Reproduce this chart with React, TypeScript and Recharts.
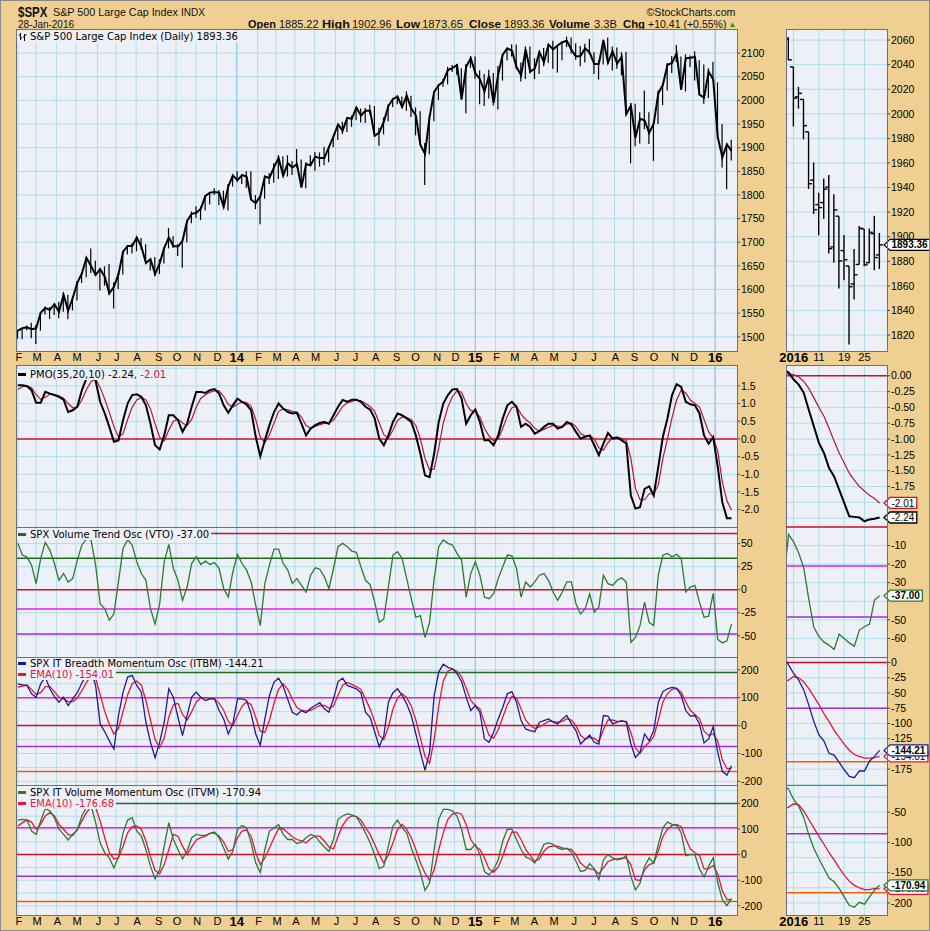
import React from 'react';
import { ComposedChart, Line, Bar, XAxis, YAxis, CartesianGrid, ReferenceLine } from 'recharts';

// weekly values, week ending 1 Feb 2013 ... 28 Jan 2016
const spxClose = [
  1513, 1518, 1520, 1516, 1518, 1551, 1561, 1557, 1569, 1553,
  1589, 1555, 1582, 1614, 1634, 1667, 1650, 1631, 1643, 1627,
  1592, 1606, 1632, 1680, 1692, 1692, 1710, 1691, 1656, 1664,
  1633, 1655, 1688, 1710, 1692, 1691, 1703, 1745, 1760, 1762,
  1771, 1798, 1805, 1806, 1805, 1775, 1818, 1841,
  1831, 1842, 1839, 1790, 1783, 1797, 1839, 1836, 1859, 1878,
  1841, 1867, 1858, 1865, 1816, 1865, 1863, 1881, 1878, 1878,
  1901, 1924, 1949, 1936, 1963, 1961, 1985, 1968, 1978, 1978,
  1925, 1932, 1955, 1988, 2003, 2008, 1986, 2010, 1983, 1968,
  1906, 1887, 1965, 2018, 2032, 2040, 2064, 2068, 2075, 2002,
  2071, 2089,
  2058, 2045, 2019, 2052, 1995, 2055, 2097, 2110, 2105, 2071,
  2053, 2108, 2061, 2067, 2102, 2081, 2118, 2108, 2116, 2123,
  2126, 2107, 2093, 2094, 2110, 2101, 2077, 2077, 2127, 2080,
  2104, 2078, 2092, 1971, 1989, 1921, 1961, 1958, 1931, 1951,
  2015, 2033, 2075, 2079, 2099, 2023, 2089, 2090, 2092, 2012,
  2006, 2061, 2044, 1922, 1880, 1907, 1893,
];
const spxLow = [
  1496, 1495, 1514, 1497, 1485, 1513, 1547, 1538, 1546, 1539,
  1553, 1537, 1556, 1577, 1614, 1626, 1635, 1630, 1598, 1608,
  1589, 1560, 1601, 1632, 1674, 1676, 1681, 1684, 1655, 1640,
  1628, 1633, 1655, 1687, 1688, 1671, 1646, 1700, 1740, 1752,
  1747, 1767, 1780, 1800, 1779, 1772, 1767, 1818,
  1828, 1823, 1815, 1790, 1770, 1738, 1792, 1823, 1826, 1834,
  1840, 1839, 1842, 1858, 1815, 1814, 1860, 1851, 1860, 1863,
  1869, 1901, 1916, 1929, 1933, 1944, 1958, 1953, 1952, 1970,
  1925, 1904, 1928, 1956, 1986, 1992, 1984, 1978, 1965, 1926,
  1906, 1821, 1886, 1956, 2001, 2029, 2034, 2060, 2054, 2002,
  1973, 2069,
  2046, 1992, 1988, 2004, 1989, 1981, 2042, 2085, 2093, 2066,
  2040, 2045, 2057, 2045, 2056, 2072, 2079, 2067, 2059, 2085,
  2113, 2099, 2086, 2072, 2080, 2097, 2056, 2044, 2076, 2077,
  2063, 2067, 2053, 1970, 1867, 1903, 1909, 1939, 1908, 1872,
  1950, 1990, 2021, 2058, 2081, 2022, 2019, 2070, 2042, 2012,
  1993, 2005, 2044, 1918, 1858, 1812, 1873,
];
const spxHigh = [
  1514, 1518, 1524, 1530, 1525, 1552, 1564, 1563, 1570, 1574,
  1593, 1589, 1585, 1618, 1636, 1669, 1687, 1661, 1646, 1649,
  1654, 1615, 1635, 1680, 1694, 1698, 1710, 1709, 1696, 1665,
  1669, 1664, 1690, 1730, 1713, 1696, 1704, 1745, 1765, 1776,
  1775, 1799, 1806, 1814, 1810, 1809, 1823, 1844,
  1850, 1844, 1850, 1850, 1800, 1798, 1841, 1846, 1867, 1884,
  1882, 1884, 1872, 1897, 1875, 1869, 1884, 1891, 1890, 1902,
  1902, 1925, 1950, 1955, 1964, 1968, 1985, 1983, 1984, 1991,
  1988, 1942, 1964, 1992, 2005, 2011, 2008, 2019, 2010, 1985,
  1977, 1910, 1966, 2019, 2034, 2046, 2071, 2075, 2077, 2068,
  2077, 2094,
  2093, 2064, 2056, 2065, 2058, 2073, 2097, 2111, 2119, 2118,
  2080, 2114, 2114, 2089, 2103, 2111, 2120, 2126, 2118, 2124,
  2135, 2133, 2121, 2115, 2120, 2130, 2102, 2085, 2129, 2133,
  2114, 2112, 2102, 2103, 1994, 1993, 1975, 2021, 1975, 1953,
  2021, 2034, 2079, 2094, 2117, 2093, 2097, 2095, 2104, 2085,
  2076, 2068, 2082, 2038, 1950, 1909, 1917,
];
const pmoLine = [
  1.52, 1.52, 1.49, 1.38, 1.02, 1.02, 1.33, 1.28, 1.24, 1.19,
  1.11, 0.76, 0.81, 0.91, 1.38, 1.71, 1.85, 1.64, 1.05, 0.72,
  0.34, -0.08, -0.04, 0.53, 1.0, 1.24, 1.26, 1.19, 0.95, 0.43,
  -0.18, -0.3, 0.1, 0.67, 0.67, 0.53, 0.2, 0.43, 0.91, 1.33,
  1.33, 1.3, 1.38, 1.41, 1.28, 0.95, 0.74, 0.95, 1.14, 1.05,
  0.97, 0.81, 0.06, -0.49, -0.04, 0.39, 0.76, 1.0, 0.86, 0.76,
  0.72, 0.74, 0.43, 0.1, 0.29, 0.39, 0.45, 0.48, 0.43, 0.67,
  0.91, 1.1, 1.05, 1.11, 1.11, 1.05, 0.91, 0.83, 0.58, 0.01,
  -0.18, 0.1, 0.48, 0.72, 0.67, 0.58, 0.48, 0.1, -0.42, -1.03,
  -1.08, -0.42, 0.48, 1.0, 1.24, 1.4, 1.41, 1.14, 0.43, 0.67,
  0.83, 0.48, -0.04, -0.04, -0.18, 0.1, 0.58, 0.95, 1.05, 0.91,
  0.34, 0.43, 0.34, 0.15, 0.22, 0.34, 0.43, 0.43, 0.29, 0.34,
  0.48, 0.41, 0.2, 0.01, 0.06, 0.1, -0.18, -0.46, -0.13, 0.17,
  0.01, 0.04, -0.04, -0.13, -1.6, -1.97, -1.93, -1.41, -1.34, -1.6,
  -0.79, 0.06, 0.58, 1.24, 1.55, 1.47, 1.05, 0.98, 0.95, 0.72,
  0.1, -0.13, 0.05, -0.8, -1.8, -2.24, -2.24,
];
const pmoSignal = [
  1.4, 1.48, 1.5, 1.45, 1.25, 1.12, 1.18, 1.26, 1.25, 1.22,
  1.15, 1.0, 0.88, 0.9, 1.1, 1.4, 1.62, 1.7, 1.45, 1.12,
  0.75, 0.35, 0.05, 0.15, 0.55, 0.9, 1.1, 1.18, 1.1, 0.85,
  0.42, 0.05, -0.05, 0.25, 0.5, 0.56, 0.45, 0.38, 0.55, 0.9,
  1.15, 1.25, 1.32, 1.36, 1.36, 1.2, 0.98, 0.9, 0.98, 1.05,
  1.03, 0.92, 0.55, 0.05, -0.1, 0.12, 0.45, 0.78, 0.85, 0.82,
  0.78, 0.76, 0.62, 0.38, 0.3, 0.35, 0.4, 0.44, 0.45, 0.53,
  0.72, 0.92, 1.02, 1.06, 1.1, 1.08, 1.0, 0.92, 0.78, 0.45,
  0.12, 0.02, 0.25, 0.52, 0.62, 0.6, 0.55, 0.38, 0.0, -0.55,
  -0.88, -0.85, -0.25, 0.45, 0.9, 1.2, 1.36, 1.32, 1.0, 0.8,
  0.78, 0.62, 0.3, 0.08, -0.05, 0.0, 0.3, 0.65, 0.88, 0.92,
  0.7, 0.55, 0.45, 0.3, 0.22, 0.27, 0.33, 0.38, 0.36, 0.35,
  0.42, 0.45, 0.35, 0.15, 0.08, 0.1, 0.0, -0.25, -0.32, -0.1,
  0.03, 0.05, 0.02, -0.05, -0.55, -1.4, -1.72, -1.72, -1.55, -1.55,
  -1.3, -0.55, 0.0, 0.6, 1.1, 1.38, 1.3, 1.1, 1.0, 0.9,
  0.55, 0.2, 0.03, -0.35, -1.22, -1.75, -2.01,
];
const vtoLine = [
  50.3, 37.6, 35.4, 26.6, 6.6, 33.9, 51.4, 43, 28.4, 10.2,
  17.5, 8.4, 12, 32.1, 48.5, 55.1, 54, 26.6, -15.3, -20.8,
  -33, -26.3, 8.4, 44.9, 54, 48.5, 30.3, 17.5, 10.2, -20.8,
  -37.2, -15.3, 30.3, 49.2, 23, 10.2, -11.7, 2.9, 28.4, 35.7,
  27.4, 31, 27.4, 29.5, 23, 1.1, -8, 19.3, 38.3, 28.4,
  21.2, 8.4, -17.1, -39, 6.6, 26.6, 44.1, 44.1, 28.4, 21.2,
  6.6, 12, 4.7, -2.6, 15.7, 23.7, 22.2, 13.9, 1.1, 23,
  46.7, 50.3, 46.7, 41.9, 40.5, 24.8, 10.2, 5.5, -13.5, -35.4,
  -31.7, 2.9, 37.6, 41.2, 33.9, 12, -9.8, -29.9, -28, -51.8,
  -35.4, 12, 46.7, 54, 50.3, 48.5, 39.4, 32.1, -8, 17.5,
  30.3, 15.7, -8, -9.8, -4.4, 12, 24.8, 37.6, 36.8, 23,
  -8, 8.4, 2.9, 8.4, 15.7, 17.5, 10.2, -2.6, -11.7, -2.6,
  8.4, 8.4, -15.3, -26.3, -20.8, -4.4, -24.4, -19, 15.7, 6.6,
  4.7, 10.2, 12.8, 8.4, -57.3, -51.8, -39, -13.5, -35.4, -39,
  15.7, 37.6, 39.4, 35.7, 38.3, 33.9, -2.6, 2.9, 4.7, -13.5,
  -29.9, -28.8, -4, -54, -57.7, -55.5, -37,
];
const itbmLine = [
  150, 146, 144, 114, 102, 150, 174, 132, 104, 84,
  102, 72, 96, 118, 153, 182, 198, 144, 6, -22,
  -55, -84, 36, 120, 174, 180, 144, 120, 12, -60,
  -115, -60, 12, 132, 102, 30, -36, 36, 102, 120,
  102, 90, 96, 96, 54, 24, -30, 6, 96, 96,
  90, 42, -30, -70, 24, 108, 156, 170, 141, 94,
  48, 38, 54, 46, 62, 72, 82, 60, 48, 96,
  158, 170, 144, 138, 132, 118, 48, 30, -22, -76,
  -36, 84, 118, 132, 108, 78, 36, -30, -96, -160,
  -96, 108, 192, 220, 209, 204, 186, 158, 102, 54,
  72, 48, -48, -60, -24, 24, 66, 114, 122, 84,
  18, -12, -18, -22, 12, 18, 24, 12, 6, 24,
  36, 6, -18, -66, -50, -34, -60, -66, 36, 34,
  6, 12, 18, 12, -66, -114, -96, -30, -54, -18,
  84, 122, 132, 137, 134, 108, 54, 34, 36, 6,
  -62, -48, -4, -97, -164, -178, -144.21,
];
const itbmEma = [
  138, 142, 145, 130, 112, 118, 140, 140, 122, 102,
  96, 86, 86, 100, 125, 155, 180, 170, 110, 50,
  5, -30, -10, 50, 110, 150, 160, 145, 90, 20,
  -50, -80, -45, 30, 75, 80, 40, 20, 50, 85,
  100, 100, 97, 96, 80, 55, 15, 0, 35, 70,
  85, 75, 30, -20, -25, 20, 80, 130, 150, 130,
  95, 65, 55, 52, 55, 63, 72, 72, 62, 70,
  110, 145, 155, 148, 140, 130, 95, 60, 15, -35,
  -50, -5, 60, 100, 115, 100, 70, 20, -45, -110,
  -135, -50, 70, 160, 195, 203, 195, 175, 135, 90,
  72, 60, 10, -35, -45, -15, 30, 75, 105, 100,
  60, 20, 0, -10, -5, 5, 15, 15, 12, 15,
  25, 20, 0, -35, -48, -42, -45, -58, -15, 20,
  20, 15, 15, 15, -25, -80, -100, -75, -60, -40,
  20, 85, 115, 130, 133, 120, 85, 55, 40, 25,
  -20, -35, -29, -56, -123, -154, -154.01,
];
const itvmLine = [
  135, 138, 135, 92, 79, 131, 180, 171, 144, 99,
  79, 57, 79, 96, 151, 184, 193, 125, 46, 7,
  -13, -52, -9, 85, 135, 144, 92, 72, 20, -46,
  -95, -59, 33, 125, 59, 20, -17, 13, 66, 79,
  75, 75, 83, 88, 66, 26, -17, 13, 99, 114,
  105, 46, -33, -70, 20, 92, 104, 118, 79, 59,
  59, 43, 49, 66, 79, 72, 49, 30, 13, 59,
  138, 151, 159, 155, 148, 118, 85, 46, 0, -55,
  -46, 33, 112, 135, 105, 85, 26, -20, -72, -140,
  -111, 20, 138, 177, 177, 171, 151, 99, 20, 20,
  40, 0, -66, -79, -59, -20, 53, 99, 99, 59,
  20, -9, -17, -33, 0, 40, 46, 40, 26, 20,
  25, 9, -26, -66, -62, -35, -56, -98, -20, 0,
  -13, -20, -17, -4, -85, -138, -112, -46, -13, -33,
  40, 105, 127, 118, 114, 85, -4, 0, 0, -56,
  -88, -46, -12, -110, -176, -199, -170.94,
];
const itvmEma = [
  112, 125, 135, 127, 99, 118, 151, 164, 151, 118,
  99, 79, 75, 99, 131, 164, 188, 184, 131, 66,
  7, -17, -13, 33, 85, 109, 112, 99, 53, -9,
  -62, -75, -39, 20, 79, 72, 33, 0, 30, 57,
  66, 72, 83, 85, 72, 49, 13, 20, 66, 92,
  96, 72, 7, -39, -13, 26, 66, 101, 101, 85,
  70, 59, 54, 46, 62, 72, 72, 53, 30, 22,
  72, 114, 140, 151, 148, 135, 105, 79, 40, 0,
  -33, 0, 46, 99, 118, 99, 66, 20, -33, -72,
  -101, -59, 20, 85, 138, 158, 164, 158, 118, 59,
  33, 20, -13, -56, -69, -48, -6, 46, 88, 88,
  59, 20, -4, -26, -17, 13, 30, 33, 33, 26,
  22, 20, 0, -33, -48, -56, -59, -75, -52, -27,
  -20, -17, -14, -14, -39, -98, -101, -59, -39, -33,
  13, 72, 99, 114, 118, 109, 62, 22, 7, -4,
  -56, -55, -42, -76, -142, -175, -176.68,
];

const monthStarts = [
  '2013-02-01', '2013-03-01', '2013-04-01', '2013-05-01', '2013-06-03', '2013-07-01',
  '2013-08-01', '2013-09-03', '2013-10-01', '2013-11-01', '2013-12-02', '2014-01-02',
  '2014-02-03', '2014-03-03', '2014-04-01', '2014-05-01', '2014-06-02', '2014-07-01',
  '2014-08-01', '2014-09-02', '2014-10-01', '2014-11-03', '2014-12-01', '2015-01-02',
  '2015-02-02', '2015-03-02', '2015-04-01', '2015-05-01', '2015-06-01', '2015-07-01',
  '2015-08-03', '2015-09-01', '2015-10-01', '2015-11-02', '2015-12-01', '2016-01-04',
];
const monthLabels = [
  'F', 'M', 'A', 'M', 'J', 'J', 'A', 'S', 'O', 'N', 'D', '14',
  'F', 'M', 'A', 'M', 'J', 'J', 'A', 'S', 'O', 'N', 'D', '15',
  'F', 'M', 'A', 'M', 'J', 'J', 'A', 'S', 'O', 'N', 'D', '16',
];

// daily values for the zoomed panel, 30 Dec 2015 ... 28 Jan 2016
const dayLabels = ['Dec 30', 'Dec 31', 'Jan 4', 'Jan 5', 'Jan 6', 'Jan 7', 'Jan 8', 'Jan 11', 'Jan 12', 'Jan 13',
  'Jan 14', 'Jan 15', 'Jan 19', 'Jan 20', 'Jan 21', 'Jan 22', 'Jan 25', 'Jan 26', 'Jan 27', 'Jan 28'];
const dayOpen = [2077.3, 2060.6, 2038.2, 2013.8, 2011.7, 1985.3, 1946.0, 1926.1, 1927.8, 1940.3,
  1891.7, 1916.7, 1888.7, 1876.2, 1861.5, 1877.4, 1906.3, 1878.8, 1902.5, 1885.2];
const dayHigh = [2077.3, 2062.5, 2038.2, 2021.9, 2011.7, 1985.3, 1960.4, 1935.7, 1947.4, 1950.3,
  1934.5, 1916.7, 1901.4, 1876.2, 1889.9, 1908.8, 1906.3, 1906.7, 1917.0, 1903.0];
const dayLow = [2062.0, 2043.6, 1989.7, 2004.2, 1979.1, 1938.8, 1918.5, 1901.1, 1914.4, 1886.3,
  1878.9, 1857.8, 1864.6, 1812.3, 1849.0, 1877.4, 1876.0, 1878.8, 1872.7, 1873.7];
const dayClose = [2063.4, 2043.9, 2012.7, 2016.7, 1990.3, 1943.1, 1922.0, 1923.7, 1938.7, 1890.3,
  1921.8, 1880.3, 1881.3, 1859.3, 1869.0, 1906.9, 1877.1, 1903.6, 1883.0, 1893.36];
const dayPmo = [0.1, 0.05, -0.06, -0.14, -0.27, -0.54, -0.8, -1.06, -1.22, -1.46,
  -1.59, -1.8, -2.01, -2.22, -2.23, -2.24, -2.3, -2.27, -2.26, -2.24];
const dayPmoSignal = [0.04, 0.03, 0.02, -0.02, -0.09, -0.2, -0.35, -0.5, -0.64, -0.83,
  -1.03, -1.22, -1.38, -1.54, -1.65, -1.75, -1.82, -1.89, -1.94, -2.01];
const dayVto = [-30, -4, -8, -14, -22, -39, -54, -59, -62, -63.6,
  -66, -57.7, -60, -62.4, -64.2, -55.5, -53.7, -52.3, -39.3, -37];
const dayItbm = [10, -4, -18, -29, -45, -70, -97, -119, -129, -149,
  -152, -164, -176, -187, -189, -178, -178, -162, -154, -144.21];
const dayItbmEma = [-32, -29, -23, -25, -32, -43, -56, -69, -84, -97,
  -111, -123, -134, -144, -151, -154, -157, -157, -156, -154.01];
const dayItvm = [-5, -12, -29, -40, -59, -87, -110, -127, -143, -159,
  -165, -176, -190, -204, -207, -199, -202, -190, -179, -170.94];
const dayItvmEma = [-45, -41.6, -36, -38, -48, -62, -76, -90, -103, -117,
  -129, -142, -154, -164, -171, -175, -178, -178, -176, -176.68];
const dayTickIdx = [2, 7, 12, 16];
const dayTickText = ['2016', '11', '19', '25'];

const BG = '#F0D092';
const PLOT_BG = '#EEF0F8';
const GRID = '#AEDDEA';
const GRID_YEAR = '#86C6EA';
const BORDER = '#6E6E82';
const RED = '#D0102A';
const CRIMSON = '#B8133C';
const EMA_RED = '#E8143C';
const GREEN = '#2C7A2C';
const DKGREEN = '#1E6A1E';
const MAGENTA = '#E81EE8';
const PURPLE = '#9A30D8';
const ORANGE = '#F06000';
const NAVY = '#1C1C8C';
const AXIS_FONT = "Arial, 'Liberation Sans', sans-serif";

const weekStart = Date.parse('2013-02-01');
const monthPos = monthStarts.map(d => (Date.parse(d) - weekStart) / (7 * 864e5));
const yearPos = monthPos.filter((_, i) => monthLabels[i].length === 2);

const weeks = spxClose.map((c, i) => ({
  k: i,
  close: c,
  hl: [spxLow[i], spxHigh[i]],
  pmo: pmoLine[i],
  pmoSig: pmoSignal[i],
  vto: vtoLine[i],
  itbm: itbmLine[i],
  itbmEma: itbmEma[i],
  itvm: itvmLine[i],
  itvmEma: itvmEma[i],
}));

const days = dayLabels.map((d, i) => ({
  p: i,
  day: d,
  hl: [dayLow[i], dayHigh[i]],
  open: dayOpen[i],
  high: dayHigh[i],
  low: dayLow[i],
  close: dayClose[i],
  pmo: dayPmo[i],
  pmoSig: dayPmoSignal[i],
  vto: dayVto[i],
  itbm: dayItbm[i],
  itbmEma: dayItbmEma[i],
  itvm: dayItvm[i],
  itvmEma: dayItvmEma[i],
}));

const range = (a: number, b: number, s: number) => {
  const out: number[] = [];
  for (let v = a; v <= b + 1e-9; v += s) out.push(Math.round(v * 100) / 100);
  return out;
};

const MAIN_LEFT = 16;
const MAIN_W = 721;
const RIGHT_LEFT = 786;
const RIGHT_W = 101;

const panels = {
  price: { top: 29, h: 322 },
  pmo: { top: 365, h: 162 },
  vto: { top: 527, h: 130 },
  itbm: { top: 657, h: 128 },
  itvm: { top: 785, h: 130 },
};

function MonthTick(props: any) {
  const { x, y, index } = props;
  const label = monthLabels[index] ?? '';
  const year = label.length === 2;
  return (
    <text x={x + (year ? 0 : 1)} y={y} dy="0.71em" textAnchor="middle" fontFamily={AXIS_FONT}
      fontSize={year ? 13 : 11} fontWeight={year ? 'bold' : 'normal'} fill="#000">{label}</text>
  );
}

function DayTick(props: any) {
  const { x, y, index } = props;
  const label = dayTickText[index] ?? '';
  const year = label.length === 4;
  return (
    <text x={x} y={y} dy="0.71em" textAnchor="middle" fontFamily={AXIS_FONT}
      fontSize={year ? 13 : 11} fontWeight={year ? 'bold' : 'normal'} fill="#000">{label}</text>
  );
}

function Spike(props: any) {
  const { x, y, width, height } = props;
  const cx = x + width / 2;
  const top = Math.min(y, y + height);
  return <line x1={cx} x2={cx} y1={top} y2={top + Math.abs(height)} stroke="#000" strokeWidth={1.2} />;
}

function Ohlc(props: any) {
  const { x, y, width, height, payload } = props;
  const cx = x + width / 2;
  const top = Math.min(y, y + height);
  const h = Math.abs(height);
  const span = payload.high - payload.low || 1;
  const yOf = (v: number) => top + ((payload.high - v) / span) * h;
  return (
    <g stroke="#000" strokeWidth={1.4}>
      <line x1={cx} x2={cx} y1={top} y2={top + h} />
      <line x1={cx - 3.5} x2={cx} y1={yOf(payload.open)} y2={yOf(payload.open)} />
      <line x1={cx} x2={cx + 3.5} y1={yOf(payload.close)} y2={yOf(payload.close)} />
    </g>
  );
}

const TAG_FONT = 10;
const textWidth = (t: string, size: number) =>
  t.split('').reduce((s, ch) => s + (ch === '.' ? 0.278 : ch === '-' ? 0.333 : 0.556), 0) * size;

function Tag(props: any) {
  const { viewBox, text, color, bold } = props;
  if (!viewBox) return null;
  const x0 = viewBox.x + viewBox.width - 3;
  const y = viewBox.y;
  const w = textWidth(text, TAG_FONT) + 4;
  const pts = `${x0},${y} ${x0 + 6},${y - 5.5} ${x0 + 6 + w},${y - 5.5} ${x0 + 6 + w},${y + 5.5} ${x0 + 6},${y + 5.5}`;
  return (
    <g>
      <polygon points={pts} fill="#fff" stroke={color} strokeWidth={1.3} />
      <text x={x0 + 7.5} y={y} dy="0.36em" fontFamily={AXIS_FONT} fontSize={TAG_FONT}
        fontWeight={bold ? 'bold' : 'normal'} fill="#000">{text}</text>
    </g>
  );
}

const axisTick = { fontSize: 10.5, fill: '#000', fontFamily: AXIS_FONT };

type ChartProps = {
  right?: boolean;
  top: number;
  height: number;
  xLabels?: boolean;
  yDomain: [number, number];
  yTicks: number[];
  yFmt?: (v: number) => string;
  yGrid: number[];
  refLines?: [number, string][];
  tags?: [number, string, string, boolean][];
  children?: React.ReactNode;
};

function Panel({ right, top, height, xLabels, yDomain, yTicks, yFmt, yGrid, refLines = [], tags = [], children }: ChartProps) {
  const xH = xLabels ? 16 : 0;
  const plotW = right ? RIGHT_W : MAIN_W;
  const axisW = right ? 44 : 50;
  const left = right ? RIGHT_LEFT : MAIN_LEFT;
  return (
    <>
      <div style={{ position: 'absolute', left, top }}>
        <ComposedChart width={plotW + axisW} height={height + xH} data={right ? days : weeks}
          margin={{ top: 0, right: 0, bottom: 0, left: 0 }}>
          <CartesianGrid horizontalValues={yGrid} verticalValues={right ? dayTickIdx : monthPos}
            stroke={GRID} fill={PLOT_BG} fillOpacity={1} />
          {!right && <CartesianGrid horizontal={false} verticalValues={yearPos} stroke={GRID_YEAR} />}
          <XAxis type="number" dataKey={right ? 'p' : 'k'}
            domain={right ? [0.49, 20.46] : [-0.4, 157.2]} allowDataOverflow
            ticks={right ? dayTickIdx : monthPos} interval={0} hide={!xLabels} height={xH}
            axisLine={false} tickLine={false} tickSize={0} tickMargin={2}
            tick={right ? <DayTick /> : <MonthTick />} />
          <YAxis orientation="right" width={axisW} domain={yDomain} allowDataOverflow ticks={yTicks}
            interval={0} tickFormatter={yFmt} axisLine={false} tickSize={3} tickMargin={1}
            tickLine={{ stroke: '#444' }} tick={axisTick} />
          {refLines.map(([v, c], i) => (
            <ReferenceLine key={'ref' + i} y={v} stroke={c} strokeWidth={1.5} />
          ))}
          {children}
          {tags.map(([v, text, color, bold], i) => (
            <ReferenceLine key={'tag' + i} y={v} stroke="none"
              label={<Tag text={text} color={color} bold={bold} />} />
          ))}
        </ComposedChart>
      </div>
      <div style={{
        position: 'absolute', left, top, width: plotW + 1, height: height + 1,
        border: `1px solid ${BORDER}`, boxSizing: 'border-box', pointerEvents: 'none',
      }} />
    </>
  );
}

const legendBox: React.CSSProperties = {
  position: 'absolute', background: PLOT_BG, fontFamily: "'DejaVu Sans', Verdana, sans-serif",
  fontSize: 10, lineHeight: '11px', color: '#000', padding: '0 2px 0 1px', whiteSpace: 'nowrap',
};

function Marker({ color }: { color: string }) {
  return <span style={{ display: 'inline-block', width: 8, height: 3, background: color, verticalAlign: 'middle', marginRight: 4, position: 'relative', top: -1 }} />;
}

// header texts: [text, left, width, bold, baseline, size]
const headerItems: [string, number, number, boolean, number, number][] = [
  ['$SPX', 18, 29.5, true, 16.5, 14],
  ['S&P 500 Large Cap Index', 53, 125, false, 15.5, 11],
  ['INDX', 181, 24, false, 15.5, 10],
  ['©StockCharts.com', 646.5, 89, false, 15.5, 11],
  ['28-Jan-2016', 18, 56, false, 27.5, 11],
  ['Open', 248, 28, true, 27.5, 11], ['1885.22', 279, 39.5, false, 27.5, 11],
  ['High', 322, 28, true, 27.5, 11], ['1902.96', 352, 39.5, false, 27.5, 11],
  ['Low', 396, 24, true, 27.5, 11], ['1873.65', 422, 41, false, 27.5, 11],
  ['Close', 469, 32, true, 27.5, 11], ['1893.36', 504, 40.5, false, 27.5, 11],
  ['Volume', 549, 41, true, 27.5, 11], ['3.3B', 594, 23, false, 27.5, 11],
  ['Chg', 623, 22, true, 27.5, 11], ['+10.41 (+0.55%)', 648, 78.5, false, 27.5, 11],
];

const fmt1 = (v: number) => v.toFixed(1);
const fmt2 = (v: number) => v.toFixed(2);
const fmt0 = (v: number) => String(v);

export default function App() {
  return (
    <div style={{ position: 'absolute', left: 0, top: 0, width: 930, height: 931, background: BG, overflow: 'hidden' }}>
      <style>{`body{margin:0;overflow:hidden;background:${BG}} .recharts-surface{overflow:visible}`}</style>

      <svg width={930} height={29} style={{ position: 'absolute', left: 0, top: 0 }}>
        {headerItems.map(([t, x, w, b, base, size]) => (
          <text key={t + x} x={x} y={base} textLength={w} lengthAdjust="spacingAndGlyphs"
            fontFamily={AXIS_FONT} fontSize={size} fontWeight={b ? 'bold' : 'normal'} fill="#111">{t}</text>
        ))}
        <polygon points="730,27 735,27 732.5,22.5" fill="#1E9A1E" />
      </svg>

      {/* price */}
      <Panel top={panels.price.top} height={panels.price.h} xLabels yDomain={[1470, 2151]}
        yTicks={range(1500, 2100, 50)} yFmt={fmt0} yGrid={range(1500, 2150, 50)}>
        <Bar dataKey="hl" barSize={2} isAnimationActive={false} shape={(p: any) => <Spike {...p} />} />
        <Line dataKey="close" stroke="#000" strokeWidth={2} dot={false} isAnimationActive={false} />
      </Panel>
      <Panel right top={panels.price.top} height={panels.price.h} xLabels yDomain={[1807, 2069]}
        yTicks={range(1820, 2060, 20)} yFmt={fmt0} yGrid={range(1820, 2060, 20)}
        tags={[[1893.36, '1893.36', '#000', true]]}>
        <Bar dataKey="hl" barSize={6} isAnimationActive={false} shape={(p: any) => <Ohlc {...p} />} />
      </Panel>
      <div style={{ ...legendBox, left: 17, top: 31 }}>
        <svg width={9} height={9} style={{ marginRight: 3, verticalAlign: 'middle', position: 'relative', top: -1 }}>
          <g stroke="#000" strokeWidth={1}>
            <line x1={2.5} x2={2.5} y1={1} y2={8} /><line x1={0.5} x2={2.5} y1={3} y2={3} /><line x1={2.5} x2={4} y1={6} y2={6} />
            <line x1={6.5} x2={6.5} y1={2} y2={9} /><line x1={5} x2={6.5} y1={5} y2={5} /><line x1={6.5} x2={8.5} y1={3} y2={3} />
          </g>
        </svg>
        S&amp;P 500 Large Cap Index (Daily) 1893.36
      </div>

      {/* PMO */}
      <Panel top={panels.pmo.top} height={panels.pmo.h} yDomain={[-2.49, 2.09]}
        yTicks={range(-2, 1.5, 0.5)} yFmt={fmt1} yGrid={range(-2, 2, 0.5)} refLines={[[0, RED]]}>
        <Line dataKey="pmoSig" stroke={CRIMSON} strokeWidth={1.2} dot={false} isAnimationActive={false} />
        <Line dataKey="pmo" stroke="#000" strokeWidth={2} dot={false} isAnimationActive={false} />
      </Panel>
      <Panel right top={panels.pmo.top} height={panels.pmo.h} yDomain={[-2.39, 0.17]}
        yTicks={range(-1.75, 0, 0.25)} yFmt={fmt2} yGrid={range(-2.25, 0, 0.25)} refLines={[[0, RED]]}
        tags={[[-2.01, '-2.01', CRIMSON, false], [-2.24, '-2.24', '#000', false]]}>
        <Line dataKey="pmoSig" stroke={CRIMSON} strokeWidth={1.2} dot={false} isAnimationActive={false} />
        <Line dataKey="pmo" stroke="#000" strokeWidth={2} dot={false} isAnimationActive={false} />
      </Panel>
      <div style={{ ...legendBox, left: 17, top: 369 }}>
        <Marker color="#000" />PMO(35,20,10) -2.24, <span style={{ color: CRIMSON }}>-2.01</span>
      </div>

      {/* VTO */}
      <Panel top={panels.vto.top} height={panels.vto.h} yDomain={[-73, 68]}
        yTicks={[-50, -25, 0, 25, 50]} yFmt={fmt0} yGrid={range(-50, 50, 25)}
        refLines={[[61, RED], [34, DKGREEN], [0, RED], [-21, MAGENTA], [-48, PURPLE]]}>
        <Line dataKey="vto" stroke={GREEN} strokeWidth={1.3} dot={false} isAnimationActive={false} />
      </Panel>
      <Panel right top={panels.vto.top} height={panels.vto.h} yDomain={[-70, 0]}
        yTicks={[-60, -50, -30, -20, -10]} yFmt={fmt0} yGrid={range(-60, -10, 10)}
        refLines={[[0, RED], [-21, MAGENTA], [-48.5, PURPLE]]}
        tags={[[-37, '-37.00', GREEN, true]]}>
        <Line dataKey="vto" stroke={GREEN} strokeWidth={1.3} dot={false} isAnimationActive={false} />
      </Panel>
      <div style={{ ...legendBox, left: 17, top: 529 }}>
        <Marker color={DKGREEN} />SPX Volume Trend Osc (VTO) -37.00
      </div>

      {/* ITBM */}
      <Panel top={panels.itbm.top} height={panels.itbm.h} yDomain={[-213, 246]}
        yTicks={[-200, -100, 0, 100, 200]} yFmt={fmt0} yGrid={range(-200, 200, 50)}
        refLines={[[190, DKGREEN], [100, MAGENTA], [0, RED], [-75, PURPLE], [-165, ORANGE]]}>
        <Line dataKey="itbmEma" stroke={EMA_RED} strokeWidth={1.3} dot={false} isAnimationActive={false} />
        <Line dataKey="itbm" stroke={NAVY} strokeWidth={1.3} dot={false} isAnimationActive={false} />
      </Panel>
      <Panel right top={panels.itbm.top} height={panels.itbm.h} yDomain={[-201, 9]}
        yTicks={[-175, -125, -100, -75, -50, -25, 0]} yFmt={fmt0} yGrid={range(-200, 0, 25)}
        refLines={[[0, RED], [-75, PURPLE], [-163, ORANGE]]}
        tags={[[-154.01, '-154.01', EMA_RED, false], [-144.21, '-144.21', NAVY, true]]}>
        <Line dataKey="itbmEma" stroke={EMA_RED} strokeWidth={1.3} dot={false} isAnimationActive={false} />
        <Line dataKey="itbm" stroke={NAVY} strokeWidth={1.3} dot={false} isAnimationActive={false} />
      </Panel>
      <div style={{ ...legendBox, left: 17, top: 658 }}>
        <Marker color={NAVY} />SPX IT Breadth Momentum Osc (ITBM) -144.21
      </div>
      <div style={{ ...legendBox, left: 17, top: 669, color: EMA_RED }}>
        <Marker color={EMA_RED} />EMA(10) -154.01
      </div>

      {/* ITVM */}
      <Panel top={panels.itvm.top} height={panels.itvm.h} xLabels yDomain={[-236, 272]}
        yTicks={[-200, -100, 0, 100, 200]} yFmt={fmt0} yGrid={range(-200, 250, 50)}
        refLines={[[200, DKGREEN], [105, MAGENTA], [0, RED], [-85, PURPLE], [-183, ORANGE]]}>
        <Line dataKey="itvmEma" stroke={EMA_RED} strokeWidth={1.3} dot={false} isAnimationActive={false} />
        <Line dataKey="itvm" stroke={GREEN} strokeWidth={1.3} dot={false} isAnimationActive={false} />
      </Panel>
      <Panel right top={panels.itvm.top} height={panels.itvm.h} xLabels yDomain={[-220, -5]}
        yTicks={[-200, -150, -100, -50]} yFmt={fmt0} yGrid={range(-200, -25, 25)}
        refLines={[[-85.6, PURPLE], [-183, ORANGE]]}
        tags={[[-176.68, '-176.68', EMA_RED, false], [-170.94, '-170.94', GREEN, true]]}>
        <Line dataKey="itvmEma" stroke={EMA_RED} strokeWidth={1.3} dot={false} isAnimationActive={false} />
        <Line dataKey="itvm" stroke={GREEN} strokeWidth={1.3} dot={false} isAnimationActive={false} />
      </Panel>
      <div style={{ ...legendBox, left: 17, top: 787 }}>
        <Marker color={GREEN} />SPX IT Volume Momentum Osc (ITVM) -170.94
      </div>
      <div style={{ ...legendBox, left: 17, top: 798, color: EMA_RED }}>
        <Marker color={EMA_RED} />EMA(10) -176.68
      </div>

      <div style={{ position: 'absolute', left: 0, top: 0, width: 930, height: 931, border: '1px solid #8A8A8A', boxSizing: 'border-box', pointerEvents: 'none' }} />
    </div>
  );
}
